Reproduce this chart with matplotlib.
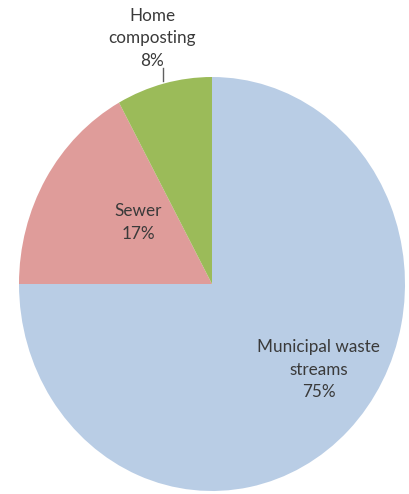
import matplotlib.pyplot as plt

# ── Data ────────────────────────────────────────────────────────────────
labels = ['Municipal waste\nstreams', 'Sewer', 'Home\ncomposting']
shares = [75, 17, 8]
colours = ['#b9cde5', '#df9c9a', '#9bbb59']

# ── Figure ──────────────────────────────────────────────────────────────
fig = plt.figure(figsize=(4.09, 4.94), dpi=100)
ax = fig.add_axes([19 / 409, 3 / 494, 386 / 409, 414 / 494])

wedges, _ = ax.pie(shares, colors=colours, startangle=90, counterclock=False,
                   radius=1, wedgeprops=dict(linewidth=0))
ax.set_aspect('auto')
ax.set_xlim(-1, 1)
ax.set_ylim(-1, 1)
ax.axis('off')

txt = dict(ha='center', va='center', fontsize=12.3, family='Lato',
           color='#3a3a3a', linespacing=1.5, clip_on=False)

# label positions (axes data units)
pos = [(0.554, -0.415), (-0.383, 0.297), (-0.311, 1.188)]
for lab, val, (x, y) in zip(labels, shares, pos):
    ax.text(x, y, f'{lab}\n{val}%', **txt)

# leader line for the small slice
ax.plot([-0.254, -0.254], [0.981, 1.043], color='#606060', lw=1, clip_on=False)

fig.savefig('out.png', dpi=100)
